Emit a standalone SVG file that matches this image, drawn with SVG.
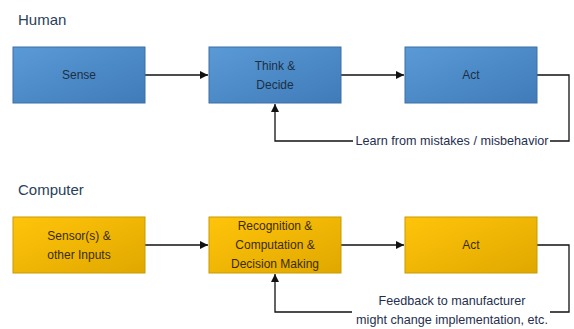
<svg xmlns="http://www.w3.org/2000/svg" width="574" height="329" viewBox="0 0 574 329">
<defs>
<linearGradient id="gb" x1="0" y1="0" x2="1" y2="1"><stop offset="0" stop-color="#5a9ad6"/><stop offset="1" stop-color="#3f7bb8"/></linearGradient>
<linearGradient id="gy" x1="0" y1="0" x2="1" y2="1"><stop offset="0" stop-color="#ffc40a"/><stop offset="1" stop-color="#e0a800"/></linearGradient>
<marker id="ah" viewBox="0 0 10 10" refX="10" refY="5" markerWidth="8" markerHeight="8" markerUnits="userSpaceOnUse" orient="auto"><path d="M0,0 L10,5 L0,10 z" fill="#111"/></marker>
<style>
.b{fill:url(#gb);stroke:#3c6fa3;stroke-width:1}
.y{fill:url(#gy);stroke:#c99a00;stroke-width:1}
.t{font-family:"Liberation Sans",Arial,sans-serif;font-size:12px;text-anchor:middle}
.tb{fill:#1c2f45}
.ty{fill:#3a2c00}
.h{font-family:"Liberation Sans",Arial,sans-serif;font-size:15px;fill:#2a3f5a}
.c{fill:none;stroke:#111;stroke-width:1.3}
.l{font-family:"Liberation Sans",Arial,sans-serif;font-size:12.6px;fill:#1f2f4f}
</style>
</defs>
<rect width="574" height="329" fill="#fff"/>
<text class="h" x="18" y="25">Human</text>
<text class="h" x="18" y="195">Computer</text>
<g id="connectors">
<line class="c" x1="145" y1="75" x2="208" y2="75" marker-end="url(#ah)"/>
<line class="c" x1="341" y1="75" x2="404" y2="75" marker-end="url(#ah)"/>
<path class="c" d="M537,75 H569 V141 H550 M353,141 H275 V104" marker-end="url(#ah)"/>
<line class="c" x1="145" y1="245" x2="208" y2="245" marker-end="url(#ah)"/>
<line class="c" x1="341" y1="245" x2="404" y2="245" marker-end="url(#ah)"/>
<path class="c" d="M537,245 H569 V312 H550 M352,312 H275 V274" marker-end="url(#ah)"/>
<text class="l" x="452" y="145" text-anchor="middle" textLength="193" lengthAdjust="spacingAndGlyphs">Learn from mistakes / misbehavior</text>
<text class="l" x="452" y="305" text-anchor="middle">Feedback to manufacturer</text>
<text class="l" x="452" y="324" text-anchor="middle">might change implementation, etc.</text>
</g>
<g id="sense"><rect class="b" x="13" y="47" width="132" height="56"/><text class="t tb" x="79" y="79">Sense</text></g>
<g id="think"><rect class="b" x="209" y="47" width="132" height="56"/><text class="t tb" x="275" y="70">Think &amp;</text><text class="t tb" x="275" y="89">Decide</text></g>
<g id="act1"><rect class="b" x="405" y="47" width="132" height="56"/><text class="t tb" x="471" y="79">Act</text></g>
<g id="sensors"><rect class="y" x="13" y="217" width="132" height="56"/><text class="t ty" x="79" y="240">Sensor(s) &amp;</text><text class="t ty" x="79" y="259">other Inputs</text></g>
<g id="recog"><rect class="y" x="209" y="217" width="132" height="56"/><text class="t ty" x="275" y="230">Recognition &amp;</text><text class="t ty" x="275" y="249">Computation &amp;</text><text class="t ty" x="275" y="268">Decision Making</text></g>
<g id="act2"><rect class="y" x="405" y="217" width="132" height="56"/><text class="t ty" x="471" y="249">Act</text></g>
</svg>
